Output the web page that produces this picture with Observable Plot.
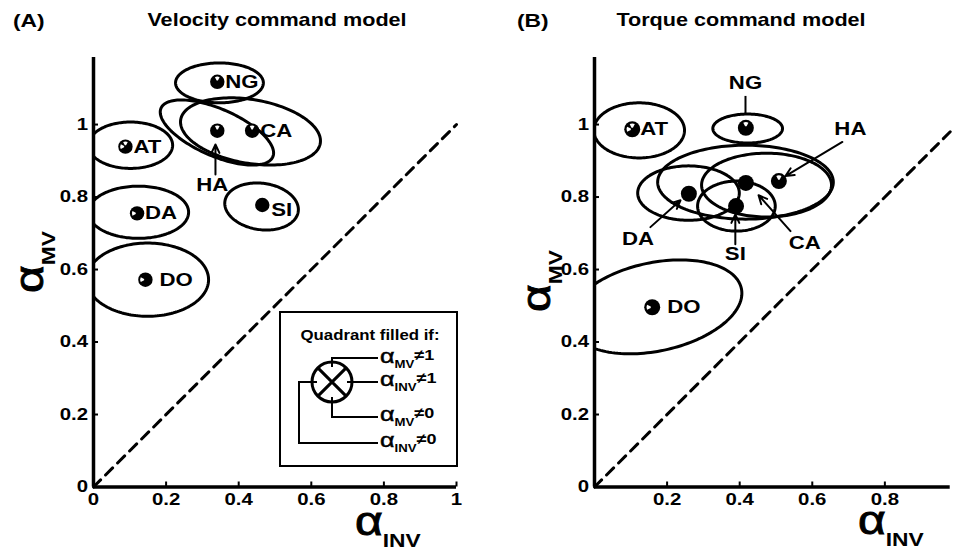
<!DOCTYPE html>
<html>
<head>
<meta charset="utf-8">
<script src="https://cdn.jsdelivr.net/npm/d3@7"></script>
<script src="https://cdn.jsdelivr.net/npm/@observablehq/plot@0.6"></script>
<style>
  html, body { margin: 0; padding: 0; background: #fff; }
  #fig { position: relative; width: 953px; height: 553px; overflow: hidden; }
  #fig svg { position: absolute; top: 0; }
</style>
</head>
<body>
<div id="fig"></div>
<script>
// Subjects
const subjects = ["AT", "CA", "DA", "DO", "HA", "NG", "SI"];

// (A) Velocity command model: estimates
const velInv = [0.088, 0.437, 0.120, 0.143, 0.341, 0.341, 0.465];
const velMv  = [0.939, 0.983, 0.755, 0.572, 0.983, 1.118, 0.778];
// (A) confidence ellipses: centre, semi-axes, tilt (deg)
const velEllX = [0.102, 0.4325, 0.124, 0.149, 0.340, 0.347, 0.463];
const velEllY = [0.943, 0.981, 0.758, 0.572, 0.978, 1.115, 0.774];
const velEllA = [0.116, 0.195, 0.138, 0.168, 0.168, 0.121, 0.102];
const velEllB = [0.064, 0.088, 0.072, 0.101, 0.065, 0.055, 0.064];
const velEllT = [0, -9.7, 0, 0, -23.6, 0, -8];
// (A) significance flags: [αMV≠1, αINV≠1, αMV≠0, αINV≠0]
const velSig = [[0,1,1,0],[0,1,1,1],[1,1,1,0],[1,1,1,0],[0,1,1,1],[0,1,1,1],[1,1,1,1]];

// (B) Torque command model: estimates
const torInv = [0.104, 0.417, 0.260, 0.159, 0.508, 0.417, 0.390];
const torMv  = [0.987, 0.839, 0.809, 0.496, 0.844, 0.991, 0.775];
// (B) confidence ellipses
const torEllX = [0.123, 0.416, 0.259, 0.167, 0.474, 0.422, 0.391];
const torEllY = [0.984, 0.841, 0.811, 0.497, 0.833, 0.989, 0.775];
const torEllA = [0.125, 0.242, 0.140, 0.243, 0.179, 0.096, 0.107];
const torEllB = [0.076, 0.102, 0.075, 0.122, 0.088, 0.040, 0.069];
const torEllT = [0, 0, 0, 12, 0, 0, 0];
const torSig = [[0,1,1,0],[1,1,1,1],[1,1,1,1],[1,1,1,0],[0,1,1,1],[0,1,1,1],[1,1,1,1]];

// Axes
const yDomain = [0, 1.185];
const yTicks = [0, 0.2, 0.4, 0.6, 0.8, 1];
const xTicksA = [0, 0.2, 0.4, 0.6, 0.8, 1];
const xTicksB = [0.2, 0.4, 0.6, 0.8];
const xDomainA = [0, 1];
const xDomainB = [0, 0.98];

// Unity line
const diagA = [0, 1];
const diagB = [0, 0.98];

// Callout labels (label centre, arrow start, arrow end)
const calloutsA = [
  {name: "HA", lx: 0.327, ly: 0.833, x1: 0.336, y1: 0.862, x2: 0.336, y2: 0.945, head: true}
];
const calloutsB = [
  {name: "NG", lx: 0.416, ly: 1.115, x1: 0.416, y1: 1.079, x2: 0.416, y2: 1.029, head: false},
  {name: "HA", lx: 0.705, ly: 0.988, x1: 0.683, y1: 0.952, x2: 0.526, y2: 0.858, head: true},
  {name: "DA", lx: 0.120, ly: 0.684, x1: 0.154, y1: 0.717, x2: 0.237, y2: 0.791, head: true},
  {name: "SI", lx: 0.388, ly: 0.642, x1: 0.388, y1: 0.670, x2: 0.388, y2: 0.752, head: true},
  {name: "CA", lx: 0.579, ly: 0.673, x1: 0.540, y1: 0.706, x2: 0.452, y2: 0.805, head: true}
];

const FONT = "'Liberation Sans', Arial, Helvetica, sans-serif";
const WIDE = 1.2;
const H = 553, MT = 57, MB = 66.5;

function ellipseRows(cx, cy, a, b, t) {
  const rows = [];
  subjects.forEach((s, i) => {
    const th = t[i] * Math.PI / 180;
    for (let k = 0; k <= 160; k++) {
      const u = 2 * Math.PI * k / 160;
      rows.push({
        name: s,
        x: cx[i] + a[i] * Math.cos(u) * Math.cos(th) - b[i] * Math.sin(u) * Math.sin(th),
        y: cy[i] + a[i] * Math.cos(u) * Math.sin(th) + b[i] * Math.sin(u) * Math.cos(th)
      });
    }
  });
  return rows;
}

// white notch for a quadrant that is not filled
const quadStart = [-3 * Math.PI / 4, -Math.PI / 4, Math.PI / 4, 3 * Math.PI / 4];
function notch(a0) {
  const m = 0.32;
  return {
    draw(ctx, size) {
      const r = Math.sqrt(size / Math.PI);
      const r0 = r * 0.28;
      ctx.moveTo(r0 * Math.cos(a0 + m), r0 * Math.sin(a0 + m));
      ctx.arc(0, 0, r, a0 + m, a0 + Math.PI / 2 - m);
      ctx.lineTo(r0 * Math.cos(a0 + Math.PI / 2 - m), r0 * Math.sin(a0 + Math.PI / 2 - m));
      ctx.closePath();
    }
  };
}

function panel(cfg) {
  const pts = subjects.map((s, i) => ({name: s, x: cfg.inv[i], y: cfg.mv[i], sig: cfg.sig[i]}));
  const ell = ellipseRows(cfg.ex, cfg.ey, cfg.ea, cfg.eb, cfg.et);
  const byName = (names) => pts.filter(d => names.includes(d.name));
  const frameW = cfg.width - cfg.marginLeft - cfg.marginRight;
  const frameH = H - MT - MB;
  const notchMarks = quadStart.map((a0, q) =>
    Plot.dot(pts.filter(d => !d.sig[q]), {x: "x", y: "y", r: cfg.dotR * 0.72, fill: "white", stroke: null, symbol: notch(a0)})
  );
  const labelMarks = cfg.side.map(g =>
    Plot.text(byName(g.names), {x: "x", y: "y", text: "name", textAnchor: "start", dx: g.dx, dy: g.dy || 0, fontSize: 18.5, fontWeight: "bold"})
  );
  return Plot.plot({
    width: cfg.width,
    height: H,
    marginTop: MT,
    marginBottom: MB,
    marginLeft: cfg.marginLeft,
    marginRight: cfg.marginRight,
    x: {domain: cfg.xDomain},
    y: {domain: yDomain},
    style: {fontFamily: FONT, fontWeight: "bold", fontSize: "17px", color: "#000", background: "transparent", overflow: "visible"},
    marks: [
      // tick labels
      Plot.axisX({ticks: cfg.xTicks, tickSize: 0, tickPadding: 6, tickFormat: d => String(d), label: null, fontSize: 17}),
      Plot.axisY({ticks: yTicks, tickSize: 0, tickPadding: 5.5, tickFormat: d => String(d), label: null, fontSize: 17}),
      // short inward tick marks
      Plot.tickX(cfg.xTicks, {x: d => d, insetTop: frameH - 5, stroke: "black", strokeWidth: 2}),
      Plot.tickY(yTicks, {y: d => d, insetRight: frameW - 5, stroke: "black", strokeWidth: 2}),
      Plot.line(cfg.diag, {x: d => d, y: d => d, stroke: "black", strokeWidth: 3, strokeDasharray: "10,7"}),
      Plot.line(ell, {x: "x", y: "y", z: "name", stroke: "black", strokeWidth: 3, clip: true}),
      Plot.dot(pts, {x: "x", y: "y", r: cfg.dotR, fill: "black", stroke: null}),
      ...notchMarks,
      ...labelMarks,
      Plot.text(cfg.callouts, {x: "lx", y: "ly", text: "name", fontSize: 18.5, fontWeight: "bold"}),
      Plot.arrow(cfg.callouts.filter(d => d.head), {x1: "x1", y1: "y1", x2: "x2", y2: "y2", stroke: "black", strokeWidth: 2, headLength: 7, headAngle: 50, inset: 0}),
      Plot.link(cfg.callouts.filter(d => !d.head), {x1: "x1", y1: "y1", x2: "x2", y2: "y2", stroke: "black", strokeWidth: 2}),
      Plot.ruleX([0], {stroke: "black", strokeWidth: 3.5}),
      Plot.ruleY([0], {stroke: "black", strokeWidth: 3.5})
    ]
  });
}

// widen every text element horizontally about its own anchor point
function widen(svg, k) {
  svg.querySelectorAll("text").forEach(t => {
    const tr = t.getAttribute("transform") || "";
    const xa = t.getAttribute("x");
    let x = 0;
    if (xa != null && isFinite(+xa)) { x = +xa; t.removeAttribute("x"); }
    t.setAttribute("transform", `${tr} translate(${x},0) scale(${k},1)`);
  });
}

function axisLabel(sel, x, y, sub, rotate) {
  const t = sel.append("text")
    .attr("transform", `translate(${x},${y})${rotate ? " rotate(-90)" : ""}`)
    .attr("text-anchor", "start")
    .attr("font-family", FONT).attr("fill", "black");
  t.append("tspan").attr("font-size", 40).attr("font-weight", "normal").attr("stroke", "black").attr("stroke-width", 0.9).text("α");
  t.append("tspan").attr("font-size", 19).attr("font-weight", "bold").attr("dy", 12).text(sub);
}

function title(sel, x, y, text, anchor, size) {
  sel.append("text").attr("x", x).attr("y", y).attr("text-anchor", anchor)
    .attr("font-family", FONT).attr("font-weight", "bold").attr("font-size", size).attr("fill", "black").text(text);
}

const fig = document.getElementById("fig");

// Panel A
const svgA = panel({
  inv: velInv, mv: velMv, sig: velSig,
  ex: velEllX, ey: velEllY, ea: velEllA, eb: velEllB, et: velEllT,
  width: 476, marginLeft: 93, marginRight: 20,
  xDomain: xDomainA, xTicks: xTicksA, diag: diagA, dotR: 7.2,
  side: [
    {names: ["AT", "CA", "DA", "NG"], dx: 8},
    {names: ["SI"], dx: 9, dy: 5},
    {names: ["DO"], dx: 14}
  ],
  callouts: calloutsA
});
svgA.style.left = "0px";
{
  const s = d3.select(svgA);
  title(s, 13, 27, "(A)", "start", 19);
  title(s, 277, 26, "Velocity command model", "middle", 18);
  axisLabel(s, 355, 535, "INV", false);
  axisLabel(s, 43, 293, "MV", true);

  // legend inset: quadrant glyph key
  const g = s.append("g");
  g.append("rect").attr("x", 280).attr("y", 312).attr("width", 177).attr("height", 154)
    .attr("fill", "white").attr("stroke", "black").attr("stroke-width", 2);
  title(g, 370, 340, "Quadrant filled if:", "middle", 14);
  const cx = 332, cy = 382, r = 20;
  const lines = [
    [[cx, cy - r + 5], [cx, 358], [378, 358]],
    [[cx + r - 5, cy], [378, cy]],
    [[cx, cy + r - 5], [cx, 417], [378, 417]],
    [[cx - r + 5, cy], [299, cy], [299, 443], [378, 443]]
  ];
  g.append("circle").attr("cx", cx).attr("cy", cy).attr("r", r).attr("fill", "white").attr("stroke", "black").attr("stroke-width", 3);
  lines.forEach(p => g.append("path").attr("d", d3.line()(p)).attr("fill", "none").attr("stroke", "black").attr("stroke-width", 2));
  const d = r * Math.SQRT1_2;
  g.append("path").attr("d", `M${cx - d},${cy - d}L${cx + d},${cy + d}M${cx - d},${cy + d}L${cx + d},${cy - d}`).attr("stroke", "black").attr("stroke-width", 3);
  [["MV", "1", 363], ["INV", "1", 386], ["MV", "0", 421], ["INV", "0", 447]].forEach(([sub, v, yb]) => {
    const t = g.append("text").attr("x", 380).attr("y", yb).attr("text-anchor", "start").attr("font-family", FONT).attr("fill", "black");
    t.append("tspan").attr("font-size", 21).attr("font-weight", "normal").attr("stroke", "black").attr("stroke-width", 0.5).text("α");
    t.append("tspan").attr("font-size", 11).attr("font-weight", "bold").attr("dy", 5).text(sub);
    t.append("tspan").attr("font-size", 15).attr("font-weight", "bold").attr("dy", -8).text("≠" + v);
  });
}
widen(svgA, WIDE);
fig.appendChild(svgA);

// Panel B
const svgB = panel({
  inv: torInv, mv: torMv, sig: torSig,
  ex: torEllX, ey: torEllY, ea: torEllA, eb: torEllB, et: torEllT,
  width: 477, marginLeft: 118, marginRight: 3.3,
  xDomain: xDomainB, xTicks: xTicksB, diag: diagB, dotR: 8,
  side: [
    {names: ["AT"], dx: 8},
    {names: ["DO"], dx: 15}
  ],
  callouts: calloutsB
});
svgB.style.left = "476px";
{
  const s = d3.select(svgB);
  title(s, 41, 27, "(B)", "start", 19);
  title(s, 265, 26, "Torque command model", "middle", 18);
  axisLabel(s, 382, 534, "INV", false);
  axisLabel(s, 74, 312, "MV", true);
}
widen(svgB, WIDE);
fig.appendChild(svgB);
</script>
</body>
</html>
